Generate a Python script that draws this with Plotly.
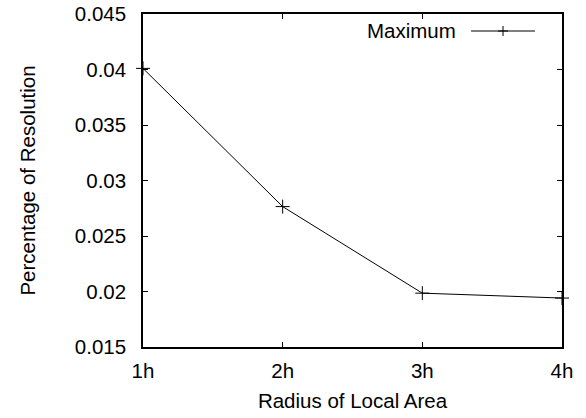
import plotly.graph_objects as go

x_vals = [1, 2, 3, 4]
x_labels = ["1h", "2h", "3h", "4h"]
maximum = [0.0401, 0.02765, 0.01985, 0.01941]
y_ticks = [0.015, 0.02, 0.025, 0.03, 0.035, 0.04, 0.045]
y_tick_labels = ["0.015", "0.02", "0.025", "0.03", "0.035", "0.04", "0.045"]

L, R, T, B = 143, 24, 14, 71
W, H = 586, 418
pw, ph = W - L - R, H - T - B

def px(x):
    return (x - L) / pw

def py(y):
    return (H - B - y) / ph

fig = go.Figure()
fig.add_trace(go.Scatter(
    x=x_vals, y=maximum, mode="lines+markers", name="Maximum",
    line=dict(color="black", width=1),
    marker=dict(symbol="cross-thin", size=10, line=dict(color="black", width=1)),
    cliponaxis=False, showlegend=False,
))

font = dict(family="Liberation Sans, Arial, sans-serif", size=20.5, color="black")

axis_common = dict(
    showline=True, linecolor="black", linewidth=1.5, mirror="allticks",
    ticks="inside", ticklen=5, tickcolor="black", tickwidth=1,
    showgrid=False, zeroline=False, tickfont=font,
)

fig.update_xaxes(
    range=[1, 4], tickvals=x_vals, ticktext=x_labels,
    title=dict(text="Radius of Local Area", font=font, standoff=12),
    ticklabelstandoff=5, **axis_common,
)
fig.update_yaxes(
    range=[0.015, 0.045], tickvals=y_ticks, ticktext=y_tick_labels,
    title=dict(text="Percentage of Resolution", font=font, standoff=34),
    ticklabelstandoff=11, **axis_common,
)

# legend drawn as text + sample line + marker
fig.add_annotation(x=px(458), y=py(31), xref="paper", yref="paper",
                   text="Maximum", showarrow=False, xanchor="right", yanchor="middle",
                   font=font)
fig.add_shape(type="line", xref="paper", yref="paper",
              x0=px(471), x1=px(535), y0=py(31), y1=py(31),
              line=dict(color="black", width=1))
fig.add_shape(type="line", xref="paper", yref="paper",
              x0=px(503), x1=px(503), y0=py(26), y1=py(36),
              line=dict(color="black", width=1))
fig.add_shape(type="line", xref="paper", yref="paper",
              x0=px(498), x1=px(508), y0=py(31), y1=py(31),
              line=dict(color="black", width=1))

fig.update_layout(
    width=W, height=H, margin=dict(l=L, r=R, t=T, b=B, autoexpand=False),
    plot_bgcolor="white", paper_bgcolor="white", font=font,
)

fig.write_html("out.html")
